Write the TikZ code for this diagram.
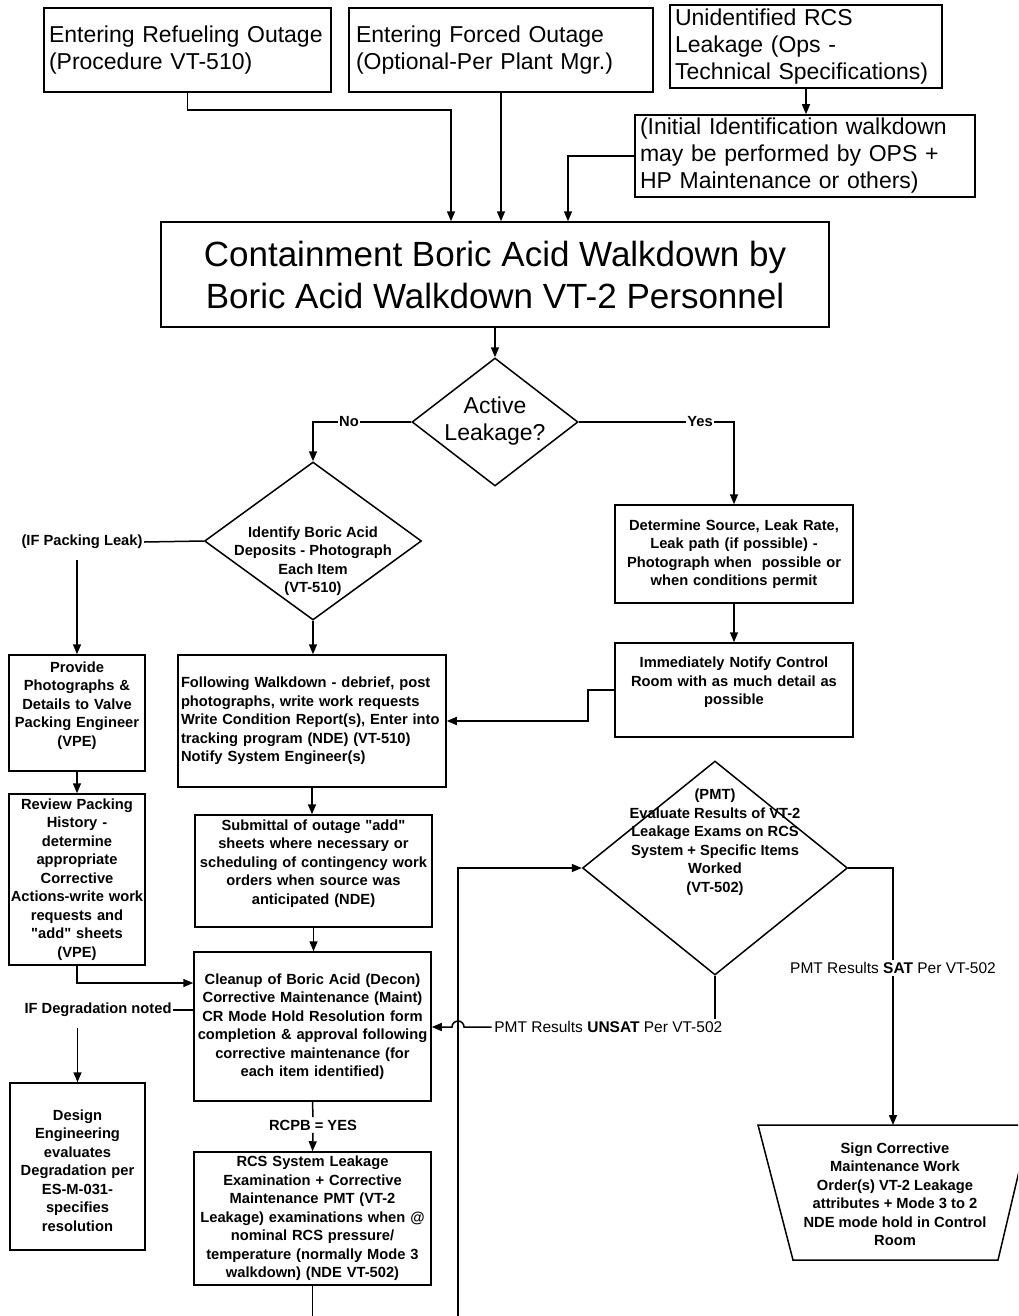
\documentclass[tikz,border=0pt]{standalone}
\usepackage{fontspec}
\setmainfont{Liberation Sans}
\newfontfamily\qfont{Liberation Sans}[Ligatures=ResetAll]
\usetikzlibrary{arrows.meta,shapes.geometric,calc}
\newcommand{\sq}{{\qfont\bfseries"}}
\begin{document}
\begin{tikzpicture}[x=1pt,y=-1pt,line width=1.5pt,
  arr/.style={-{Triangle[length=10pt,width=8pt]}},
  bx/.style={draw,rectangle,inner xsep=0pt,inner ysep=0pt},
  bigtxt/.style={font=\fontsize{23}{27}\selectfont},
  smtxt/.style={font=\bfseries\fontsize{14.7}{18.5}\selectfont},
  lbl/.style={font=\fontsize{15.5}{18}\selectfont,inner sep=2pt},
  dia/.style={draw,diamond,inner sep=0pt}]
\useasboundingbox (0,0) rectangle (1018,1316);

% top boxes
\node[bx,bigtxt,minimum width=287pt,minimum height=84pt,text width=277pt,align=left] (b1) at (187.5,50) {Entering Refueling Outage\\(Procedure VT-510)};
\node[bx,bigtxt,minimum width=304pt,minimum height=84pt,text width=290pt,align=left] (b2) at (501,50) {Entering Forced Outage\\(Optional-Per Plant Mgr.)};
\node[bx,bigtxt,minimum width=272pt,minimum height=83pt,text width=262pt,align=left] (b3) at (806,46.5) {Unidentified RCS\\Leakage (Ops -\\Technical Specifications)};
\node[bx,bigtxt,minimum width=340pt,minimum height=82pt,text width=330pt,align=left] (b4) at (805,156) {(Initial Identification walkdown\\may be performed by OPS +\\HP Maintenance or others)};
\node[bx,font=\fontsize{35}{42}\selectfont,minimum width=668pt,minimum height=105pt,align=center] (cbox) at (495,274.5) {Containment Boric Acid Walkdown by\\Boric Acid Walkdown VT-2 Personnel};

% diamonds
\node[dia,minimum width=166pt,minimum height=128pt] (active) at (495,422) {};
\node[bigtxt,align=center] (activet) at (495,421) {Active\\Leakage?};
\node[dia,minimum width=217pt,minimum height=158pt] (ident) at (313,541) {};
\node[smtxt,align=center] (identt) at (313,561) {Identify Boric Acid\\Deposits - Photograph\\Each Item\\(VT-510)};
\node[dia,minimum width=265pt,minimum height=214pt] (pmt) at (715,868) {};
\node[smtxt,align=center] (pmtt) at (715,842) {(PMT)\\Evaluate Results of VT-2\\Leakage Exams on RCS\\System + Specific Items\\Worked\\(VT-502)};

% right column
\node[bx,smtxt,minimum width=238pt,minimum height=98pt,text width=230pt,align=center] (det) at (734,554) {Determine Source, Leak Rate,\\Leak path (if possible) -\\Photograph when\ \ possible or\\when conditions permit};
\node[bx,smtxt,minimum width=238pt,minimum height=94pt,text width=230pt,align=center] (notify) at (734,690) {Immediately Notify Control\\Room with as much detail as\\possible\\\mbox{}};

% centre column
\node[bx,smtxt,minimum width=268pt,minimum height=132pt,text width=262pt,align=left] (follow) at (312,721) {Following Walkdown - debrief, post\\photographs, write work requests\\Write Condition Report(s), Enter into\\tracking program (NDE) (VT-510)\\Notify System Engineer(s)};
\node[bx,smtxt,minimum width=237pt,minimum height=112pt,text width=237pt,align=center] (sub) at (313.5,871) {Submittal of outage \sq add\sq\\sheets where necessary or\\scheduling of contingency work\\orders when source was\\anticipated (NDE)\\\mbox{}};
\node[bx,smtxt,minimum width=237pt,minimum height=149pt,text width=237pt,align=center] (clean) at (312.5,1026.5) {Cleanup of Boric Acid (Decon)\\Corrective Maintenance (Maint)\\CR Mode Hold Resolution form\\completion \& approval following\\corrective maintenance (for\\each item identified)};
\node[bx,smtxt,minimum width=237pt,minimum height=133pt,text width=237pt,align=center] (rcs) at (312.5,1218.5) {RCS System Leakage\\Examination + Corrective\\Maintenance PMT (VT-2\\Leakage) examinations when @\\nominal RCS pressure/\\temperature (normally Mode 3\\walkdown) (NDE VT-502)};

% left column
\node[bx,smtxt,minimum width=136pt,minimum height=116pt,text width=136pt,align=center] (provide) at (77,713) {Provide\\Photographs \&\\Details to Valve\\Packing Engineer\\(VPE)\\\mbox{}};
\node[bx,smtxt,minimum width=136pt,minimum height=171pt,text width=136pt,align=center] (review) at (77,879.5) {Review Packing\\History -\\determine\\appropriate\\Corrective\\Actions-write work\\requests and\\\sq add\sq\ sheets\\(VPE)};
\node[bx,smtxt,minimum width=135pt,minimum height=167pt,text width=135pt,align=center] (design) at (77.5,1166.5) {\mbox{}\\Design\\Engineering\\evaluates\\Degradation per\\ES-M-031-\\specifies\\resolution};

% labels
\node[smtxt,inner sep=1pt] (ifpack) at (82,542) {(IF Packing Leak)};
\node[smtxt,inner sep=1pt] (degr) at (98,1010) {IF Degradation noted};
\node[smtxt,inner sep=2pt] (rcpb) at (313,1125) {RCPB = YES};
\node[lbl,anchor=east] (unsat) at (725,1027) {PMT Results \textbf{UNSAT} Per VT-502};

% sign box
\coordinate (signtop) at (893,1125);
\begin{scope}
\clip (0,0) rectangle (1018,1316);
\draw (758,1125) -- (1030,1125) -- (998,1260) -- (793,1260) -- cycle;
\end{scope}
\node[smtxt,align=center] (signt) at (895,1194) {Sign Corrective\\Maintenance Work\\Order(s) VT-2 Leakage\\attributes + Mode 3 to 2\\NDE mode hold in Control\\Room};

% connectors
\coordinate (j1) at (451,110);
\draw[arr] (b1.south) |- (j1) -- (j1 |- cbox.north);
\draw[arr] (b2.south) -- (b2.south |- cbox.north);
\draw[arr] (b3.south) -- (b3.south |- b4.north);
\coordinate (j2) at (568,156);
\draw[arr] (b4.west) -- (j2) -- (j2 |- cbox.north);
\draw[arr] (cbox.south) -- (active.north);
\draw[arr] (active.west) -| (ident.north);
\draw[arr] (active.east) -| (det.north);
\draw (ident.west) -- (ifpack.east);
\draw[arr] ($(provide.north |- ifpack.south)+(0,9)$) -- (provide.north);
\draw[arr] (provide.south) -- (review.north);
\coordinate (j3) at (77,983);
\draw[arr] (review.south) -- (j3) -- (j3 -| clean.west);
\draw (clean.west |- degr.east) -- (degr.east);
\draw[arr] ($(design.north |- degr.south)+(0,9)$) -- (design.north);
\draw[arr] (ident.south) -- (ident.south |- follow.north);
\draw[arr] (det.south) -- (notify.north);
\coordinate (j4) at (588,690);
\draw[arr] (notify.west) -- (j4) |- (follow.east);
\draw[arr] (follow.south) -- (follow.south |- sub.north);
\draw[arr] (sub.south) -- (sub.south |- clean.north);
\draw (clean.south) -- (rcpb.north);
\draw[arr] (rcpb.south) -- (rcs.north);
\coordinate (rcsend) at (312.5,1316);
\draw (rcs.south) -- (rcsend);
\coordinate (loopb) at (458,1316);
\draw[arr] (loopb) |- (pmt.west);
\draw (pmt.south) -- (pmt.south |- unsat.north);
\coordinate (hopR) at (464,1027);
\coordinate (hopL) at (452,1027);
\draw[arr] (unsat.west) -- (hopR) arc[start angle=0,end angle=180,radius=6pt] -- (hopL -| clean.east);
\draw[arr] (pmt.east) -| (signtop);

% labels on lines
\node[smtxt,fill=white,inner sep=1.5pt] (nolbl) at (349,422) {No};
\node[smtxt,fill=white,inner sep=1.5pt] (yeslbl) at (700,422) {Yes};
\node[lbl,fill=white] (sat) at (893,968) {PMT Results \textbf{SAT} Per VT-502};
\end{tikzpicture}
\end{document}
